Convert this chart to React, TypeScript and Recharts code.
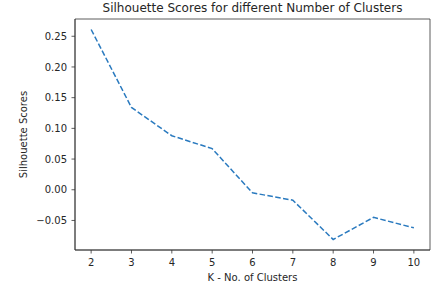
import { Line, LineChart, ReferenceArea, XAxis, YAxis, Label } from "recharts";

const clusters = [2, 3, 4, 5, 6, 7, 8, 9, 10];
const scores = [0.261, 0.134, 0.088, 0.067, -0.005, -0.017, -0.081, -0.045, -0.062];
const xTicks = [2, 3, 4, 5, 6, 7, 8, 9, 10];
const yTicks = [-0.05, 0, 0.05, 0.1, 0.15, 0.2, 0.25];

const FONT = "'DejaVu Sans', sans-serif";
const TEXT = "#262626";
const AXIS = "#333";

// matplotlib-style 5% margins around the data range
function padded(values: number[]): [number, number] {
  const lo = Math.min(...values);
  const hi = Math.max(...values);
  const pad = (hi - lo) * 0.05;
  return [lo - pad, hi + pad];
}

const xDomain = padded(clusters);
const yDomain = padded(scores);

const data = clusters.map((k, i) => ({ k, score: scores[i] }));

const fmt = (v: number) => v.toFixed(2).replace("-", "\u2212");

export default function App() {
  return (
    <div style={{ position: "absolute", left: 0, top: 0, width: 431, height: 282, background: "#fff" }}>
      <div
        style={{
          position: "absolute",
          left: 75,
          width: 355,
          top: 2,
          textAlign: "center",
          fontFamily: FONT,
          fontSize: 12,
          lineHeight: "12px",
          color: TEXT,
          whiteSpace: "nowrap",
        }}
      >
        Silhouette Scores for different Number of Clusters
      </div>
      <LineChart width={431} height={282} data={data} margin={{ top: 19, right: 1, bottom: 0, left: 0 }}>
        <XAxis
          dataKey="k"
          type="number"
          domain={xDomain}
          ticks={xTicks}
          allowDataOverflow
          height={32}
          tickSize={3.5}
          tickMargin={5}
          axisLine={{ stroke: AXIS, strokeWidth: 0.8 }}
          tickLine={{ stroke: AXIS, strokeWidth: 0.8 }}
          tick={{ fill: TEXT, fontSize: 10, fontFamily: FONT }}
        >
          <Label value="K - No. of Clusters" position="insideBottom" offset={1.5} fill={TEXT} fontSize={10} fontFamily={FONT} />
        </XAxis>
        <YAxis
          type="number"
          domain={yDomain}
          ticks={yTicks}
          allowDataOverflow
          width={75}
          tickSize={3.5}
          tickMargin={4.5}
          tickFormatter={fmt}
          axisLine={{ stroke: AXIS, strokeWidth: 0.8 }}
          tickLine={{ stroke: AXIS, strokeWidth: 0.8 }}
          tick={{ fill: TEXT, fontSize: 10, fontFamily: FONT }}
        >
          <Label
            value="Silhouette Scores"
            angle={-90}
            position="insideLeft"
            offset={23}
            fill={TEXT}
            fontSize={10}
            fontFamily={FONT}
            style={{ textAnchor: "middle" }}
          />
        </YAxis>
        <ReferenceArea
          x1={xDomain[0]}
          x2={xDomain[1]}
          y1={yDomain[0]}
          y2={yDomain[1]}
          fill="none"
          stroke={AXIS}
          strokeWidth={0.8}
          ifOverflow="visible"
        />
        <Line
          type="linear"
          dataKey="score"
          stroke="#2a7abf"
          strokeWidth={1.5}
          strokeDasharray="5.55 2.4"
          dot={false}
          activeDot={false}
          isAnimationActive={false}
        />
      </LineChart>
    </div>
  );
}
